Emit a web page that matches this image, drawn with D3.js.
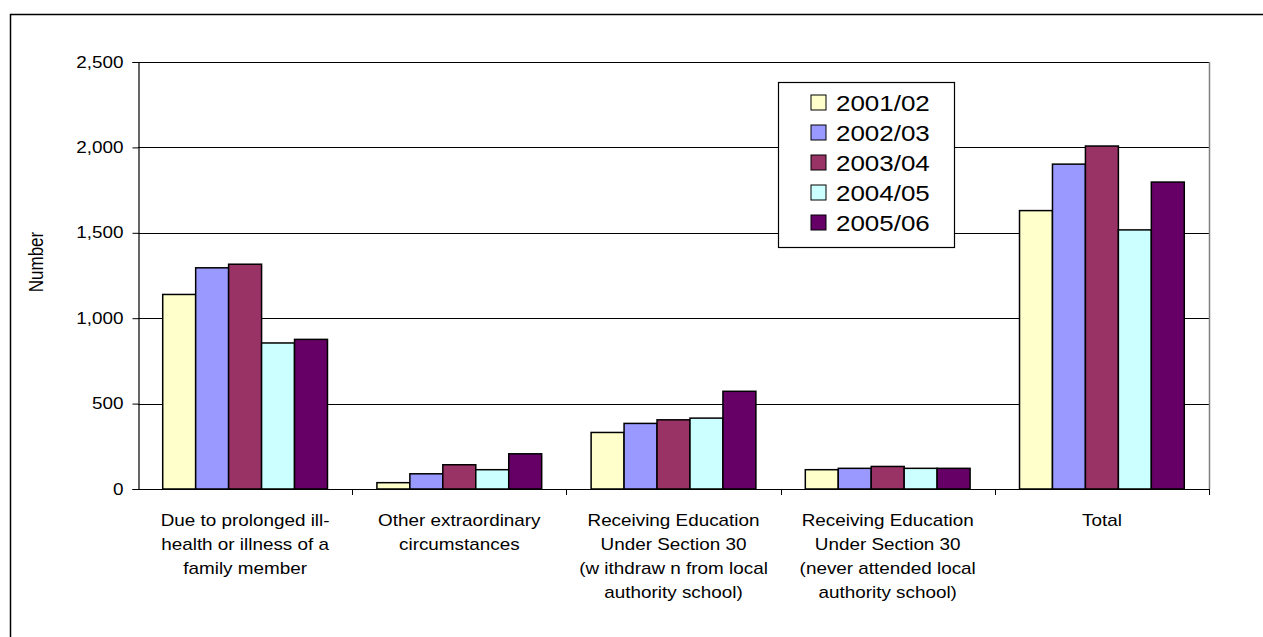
<!DOCTYPE html>
<html>
<head>
<meta charset="utf-8">
<script src="https://cdn.jsdelivr.net/npm/d3@7"></script>
<style>
  body { margin: 0; background: #fff; }
  svg { display: block; font-family: "Liberation Sans", Arial, sans-serif; }
</style>
</head>
<body>
<div id="chart"></div>
<script>
// categories, shown as wrapped lines under the axis
const categories = ["Due to prolonged ill-health", "Other extraordinary circumstances",
  "Section 30 (withdrawn)", "Section 30 (never attended)", "Total"];
const categoryLines = [
  ["Due to prolonged ill-", "health or illness of a", "family member"],
  ["Other extraordinary", "circumstances"],
  ["Receiving Education", "Under Section 30", "(w ithdraw n from local", "authority school)"],
  ["Receiving Education", "Under Section 30", "(never attended local", "authority school)"],
  ["Total"]
];
const years = ["2001/02", "2002/03", "2003/04", "2004/05", "2005/06"];
const colors = ["#FFFFCC", "#9999FF", "#993366", "#CCFFFF", "#660066"];

// one array per year, values in category order
const y2001 = [1139, 37, 331, 113, 1630];
const y2002 = [1295, 89, 384, 121, 1902];
const y2003 = [1316, 142, 405, 132, 2008];
const y2004 = [855, 113, 415, 121, 1517];
const y2005 = [876, 206, 572, 121, 1797];
const series = [y2001, y2002, y2003, y2004, y2005];

const yTicks = [0, 500, 1000, 1500, 2000, 2500];

const width = 1263, height = 637;
const plot = {left: 138, right: 1209, top: 62, bottom: 489};
// the original picture is stretched sideways a little; text follows it
const stretch = 1.18;

const svg = d3.select("#chart").append("svg")
  .attr("width", width)
  .attr("height", height);

// outer chart frame (runs off the right and bottom of the view)
svg.append("path")
  .attr("d", `M10.5,${height + 5} V14.5 H${width + 5}`)
  .attr("fill", "none")
  .attr("stroke", "#000")
  .attr("stroke-width", 1.5);

const x0 = d3.scaleBand()
  .domain(categories)
  .range([plot.left, plot.right])
  .paddingInner(0)
  .paddingOuter(0);

// 150% gap width -> bars take 5 / 6.5 of the band
const groupWidth = x0.bandwidth() * 5 / 6.5;
const x1 = d3.scaleBand()
  .domain(years)
  .range([0, groupWidth]);

const y = d3.scaleLinear()
  .domain([0, 2500])
  .range([plot.bottom, plot.top]);

// gridlines
svg.append("g")
  .selectAll("line")
  .data(yTicks.slice(1))
  .enter().append("line")
  .attr("x1", plot.left)
  .attr("x2", plot.right)
  .attr("y1", d => Math.round(y(d)) + 0.5)
  .attr("y2", d => Math.round(y(d)) + 0.5)
  .attr("stroke", "#000")
  .attr("stroke-width", 1);

// plot area right border
svg.append("line")
  .attr("x1", plot.right + 0.5).attr("x2", plot.right + 0.5)
  .attr("y1", plot.top).attr("y2", plot.bottom)
  .attr("stroke", "#808080")
  .attr("stroke-width", 1.5);

// bars
const groups = svg.append("g")
  .selectAll("g")
  .data(categories)
  .enter().append("g")
  .attr("transform", d => "translate(" + (x0(d) + (x0.bandwidth() - groupWidth) / 2) + ",0)");

groups.selectAll("rect")
  .data((d, i) => years.map((yr, j) => ({year: yr, value: series[j][i], color: colors[j]})))
  .enter().append("rect")
  .attr("x", d => x1(d.year))
  .attr("width", x1.bandwidth())
  .attr("y", d => y(d.value))
  .attr("height", d => y(0) - y(d.value))
  .attr("fill", d => d.color)
  .attr("stroke", "#000")
  .attr("stroke-width", 1.5);

// y axis
const yAxis = d3.axisLeft(y)
  .tickValues(yTicks)
  .tickSize(6)
  .tickFormat(d3.format(","));

svg.append("g")
  .attr("transform", "translate(" + (plot.left + 0.5) + ",0)")
  .call(yAxis)
  .call(g => g.select(".domain").attr("stroke-width", 1.2))
  .call(g => g.selectAll("text")
    .attr("x", 0)
    .attr("transform", "translate(-15,0) scale(" + stretch + ",1)")
    .style("font-size", "16px")
    .style("font-family", "Liberation Sans, Arial, sans-serif")
    .attr("fill", "#000"));

// x axis line and category boundary ticks
svg.append("line")
  .attr("x1", plot.left).attr("x2", plot.right)
  .attr("y1", plot.bottom + 0.5).attr("y2", plot.bottom + 0.5)
  .attr("stroke", "#000").attr("stroke-width", 1.2);

svg.append("g")
  .selectAll("line")
  .data(categories.slice(1).map(c => x0(c)).concat([plot.right]))
  .enter().append("line")
  .attr("x1", d => Math.round(d) + 0.5)
  .attr("x2", d => Math.round(d) + 0.5)
  .attr("y1", plot.bottom)
  .attr("y2", plot.bottom + 6)
  .attr("stroke", "#000");

// category labels
const labels = svg.append("g")
  .selectAll("text")
  .data(categories)
  .enter().append("text")
  .attr("text-anchor", "middle")
  .attr("transform", d => "translate(" + (x0(d) + x0.bandwidth() / 2) + ",526) scale(" + stretch + ",1)")
  .style("font-size", "16px");

labels.selectAll("tspan")
  .data((d, i) => categoryLines[i])
  .enter().append("tspan")
  .attr("x", 0)
  .attr("dy", (d, i) => i === 0 ? 0 : 24)
  .text(d => d);

// y axis title
svg.append("text")
  .attr("transform", "translate(43,262) scale(" + stretch + ",1) rotate(-90)")
  .attr("text-anchor", "middle")
  .style("font-size", "17px")
  .text("Number");

// legend
const legend = svg.append("g").attr("transform", "translate(778,82)");
legend.append("rect")
  .attr("x", 0.5).attr("y", 0.5)
  .attr("width", 176).attr("height", 165)
  .attr("fill", "#fff")
  .attr("stroke", "#000")
  .attr("stroke-width", 1.2);

const items = legend.selectAll("g.item")
  .data(years)
  .enter().append("g")
  .attr("class", "item")
  .attr("transform", (d, i) => "translate(0," + (21 + i * 30) + ")");

items.append("rect")
  .attr("x", 33).attr("y", -8)
  .attr("width", 15).attr("height", 15)
  .attr("fill", (d, i) => colors[i])
  .attr("stroke", "#000")
  .attr("stroke-width", 1);

items.append("text")
  .attr("transform", "translate(58,8) scale(" + stretch + ",1)")
  .style("font-size", "22px")
  .text(d => d);
</script>
</body>
</html>
